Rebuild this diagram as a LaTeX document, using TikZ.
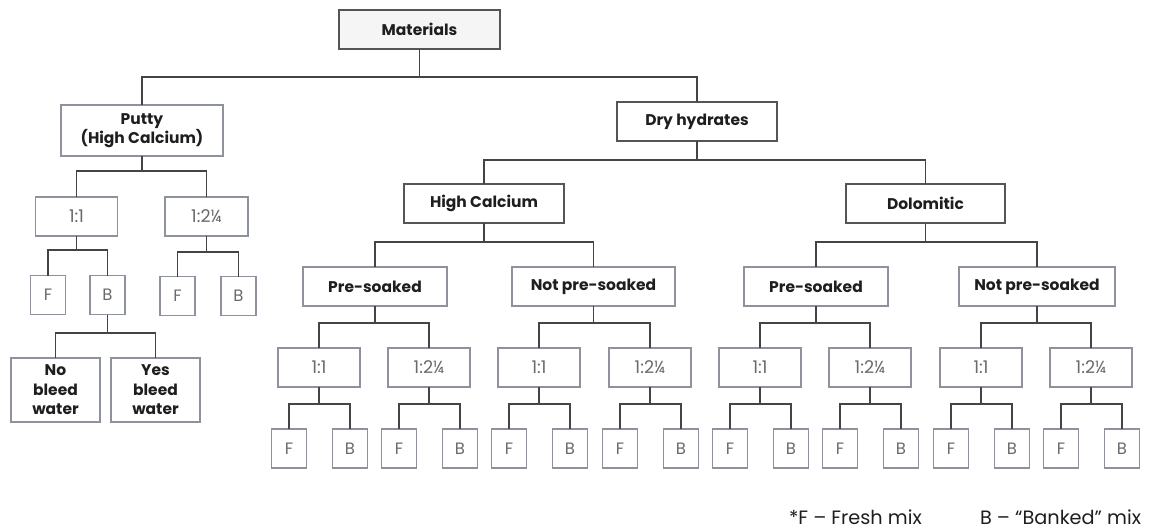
\documentclass[tikz,border=0pt]{standalone}
\usepackage{fontspec}
\setmainfont{Poppins}
\begin{document}
\begin{tikzpicture}[x=1pt,y=-1pt,
  every node/.style={inner sep=0pt, outer sep=0pt, align=center},
  boldbox/.style={draw=boxdark, line width=1.6pt, font=\fontsize{15.5}{19.5}\selectfont\bfseries, text=textdark},
  softbox/.style={draw=boxsoft, line width=1.5pt, font=\fontsize{15.5}{19.5}\selectfont\bfseries, text=textdark},
  ratiobox/.style={draw=boxsoft, line width=1.5pt, minimum width=82pt, minimum height=39pt, font=\fontsize{17.5}{19}\selectfont, text=textgray},
  leafbox/.style={draw=boxsoft, line width=1.5pt, minimum width=35pt, minimum height=39pt, font=\fontsize{16.5}{18}\selectfont, text=textgray},
  conn/.style={draw=linecol, line width=1.7pt},
  note/.style={font=\fontsize{19.3}{20}\selectfont, text=textdark, anchor=base west}
]
\definecolor{boxdark}{HTML}{555555}
\definecolor{boxsoft}{HTML}{8E929C}
\definecolor{textdark}{HTML}{1E1E1E}
\definecolor{textgray}{HTML}{6A6A6A}
\definecolor{linecol}{HTML}{444444}
\definecolor{matfill}{HTML}{F5F5F5}
\useasboundingbox (0,0) rectangle (1157,531);
\newcommand{\tconn}[3]{\draw[conn] (#1.south) -- (#1.south |- 0,#3) -| (#2.north);}

% level 0
\node[softbox, fill=matfill, draw=boxdark, minimum width=161pt, minimum height=39pt] (mat) at (419.5,29.5) {Materials};
% level 1
\node[softbox, minimum width=162pt, minimum height=51pt] (putty) at (142,130.5) {Putty\\(High Calcium)};
\node[boldbox, minimum width=160pt, minimum height=39pt] (dry) at (697,121.5) {Dry hydrates};
% putty branch
\node[ratiobox] (pr1) at (76.5,216.5) {1:1};
\node[ratiobox, minimum width=83pt] (pr2) at (206.5,216.5) {1:2\textonequarter};
\node[leafbox] (pf1) at (48,295) {F};
\node[leafbox] (pb1) at (107.5,295) {B};
\node[leafbox] (pf2) at (177.5,296) {F};
\node[leafbox] (pb2) at (238.5,296) {B};
\node[softbox, minimum width=89pt, minimum height=64pt] (no) at (55.5,390) {No\\bleed\\water};
\node[softbox, minimum width=89pt, minimum height=64pt] (yes) at (155.5,390) {Yes\\bleed\\water};
% dry branch
\node[boldbox, minimum width=160pt, minimum height=39pt] (hc) at (484,203.5) {High Calcium};
\node[boldbox, minimum width=159pt, minimum height=39pt] (dol) at (925.5,203.5) {Dolomitic};
\node[softbox, minimum width=144pt, minimum height=39pt] (ps1) at (375,286.5) {Pre-soaked};
\node[softbox, minimum width=163pt, minimum height=39pt] (nps1) at (593.5,286.5) {Not pre-soaked};
\node[softbox, minimum width=144pt, minimum height=39pt] (ps2) at (816,286.5) {Pre-soaked};
\node[softbox, minimum width=156pt, minimum height=39pt] (nps2) at (1037,286.5) {Not pre-soaked};

\node[ratiobox] (ra) at (319,367.5) {1:1};
\node[ratiobox] (rb) at (429,367.5) {1:2\textonequarter};
\node[ratiobox] (rc) at (539,367.5) {1:1};
\node[ratiobox] (rd) at (650,367.5) {1:2\textonequarter};
\node[ratiobox] (re) at (760,367.5) {1:1};
\node[ratiobox] (rf) at (870,367.5) {1:2\textonequarter};
\node[ratiobox] (rg) at (981,367.5) {1:1};
\node[ratiobox] (rh) at (1091,367.5) {1:2\textonequarter};

\foreach \r/\x in {a/319,b/429,c/539,d/650,e/760,f/870,g/981,h/1091}{
  \node[leafbox] (f\r) at (\x-30,448.5) {F};
  \node[leafbox] (b\r) at (\x+31,448.5) {B};
}

% connectors
\tconn{mat}{putty}{77}
\tconn{mat}{dry}{77}
\tconn{putty}{pr1}{171}
\tconn{putty}{pr2}{171}
\tconn{pr1}{pf1}{250}
\tconn{pr1}{pb1}{250}
\tconn{pr2}{pf2}{252}
\tconn{pr2}{pb2}{252}
\tconn{pb1}{no}{333}
\tconn{pb1}{yes}{333}
\tconn{dry}{hc}{160}
\tconn{dry}{dol}{160}
\tconn{hc}{ps1}{242}
\tconn{hc}{nps1}{242}
\tconn{dol}{ps2}{242}
\tconn{dol}{nps2}{242}
\tconn{ps1}{ra}{323}
\tconn{ps1}{rb}{323}
\tconn{nps1}{rc}{323}
\tconn{nps1}{rd}{323}
\tconn{ps2}{re}{323}
\tconn{ps2}{rf}{323}
\tconn{nps2}{rg}{323}
\tconn{nps2}{rh}{323}
\foreach \r in {a,b,c,d,e,f,g,h}{
  \tconn{r\r}{f\r}{404}
  \tconn{r\r}{b\r}{404}
}

% footnote
\node[note] (n1) at (789,524) {*F – Fresh mix};
\node[note] (n2) at (980,524) {B – “Banked” mix};
\end{tikzpicture}
\end{document}
